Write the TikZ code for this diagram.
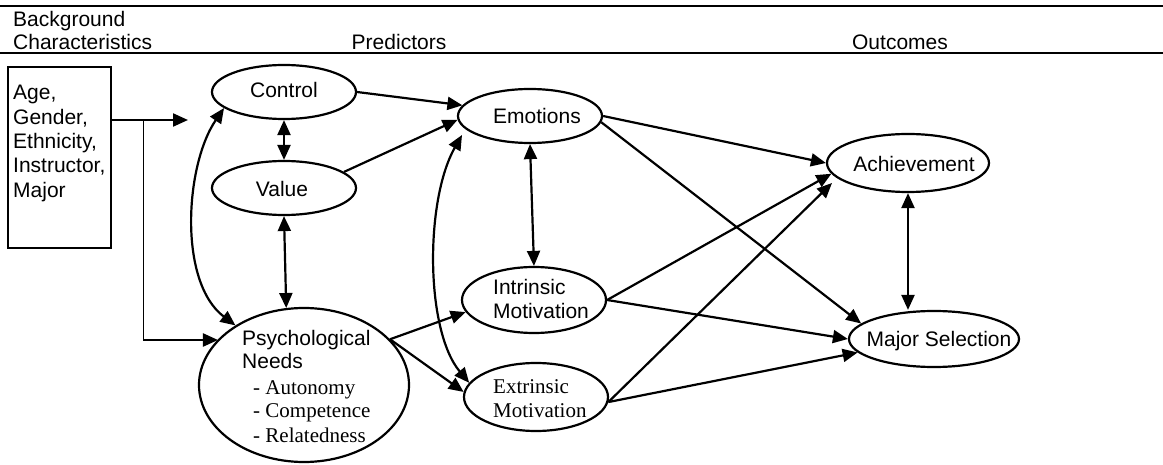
\documentclass[tikz,border=0pt]{standalone}
\usepackage{fontspec}
\setmainfont{Liberation Sans}
\newfontfamily\tnr{Liberation Serif}
\usetikzlibrary{shapes.geometric,arrows.meta,calc}
\newcommand{\mlines}[1]{\begin{tabular}[t]{@{}l@{}}#1\end{tabular}}
\begin{document}
\begin{tikzpicture}[x=1pt,y=-1pt,
  font=\fontsize{21}{24}\selectfont,
  oval/.style={ellipse, draw, line width=2.2pt, inner sep=0pt},
  txt/.style={inner sep=0pt},
  tipshape/.tip={Triangle[length=15pt,width=13pt]},
  arr/.style={line width=2.2pt, -tipshape},
  darr/.style={line width=2.2pt, tipshape-tipshape},
  hair/.style={line width=1pt},
  rule/.style={line width=2.2pt}]
\useasboundingbox (0,0) rectangle (1163,465);

% header
\draw[rule] (0,6) -- (1163,6);
\draw[rule] (0,53) -- (1163,53);
\node[txt, anchor=base west, font=\fontsize{21}{23}\selectfont] (hbg) at (13,27) {\mlines{Background\\Characteristics}};
\node[txt, anchor=base] (hpred) at (399,50) {Predictors};
\node[txt, anchor=base] (hout) at (900,50) {Outcomes};

% background box
\node[draw, line width=2.2pt, minimum width=103pt, minimum height=181pt, inner sep=0pt] (bg) at (59.5,157.5) {};
\node[txt, anchor=base west, font=\fontsize{21}{24.3}\selectfont] (bgtext) at (13,100) {\mlines{Age,\\Gender,\\Ethnicity,\\Instructor,\\Major}};

% ellipses
\node[oval, minimum width=144pt, minimum height=54pt] (control) at (284,92) {};
\node[txt, anchor=base] at (284,98) {Control};
\node[oval, minimum width=144pt, minimum height=54pt] (value) at (284,188) {};
\node[txt, anchor=base] at (282,197) {Value};
\node[oval, minimum width=144pt, minimum height=54pt] (emotions) at (530,116) {};
\node[txt, anchor=base] at (537,124) {Emotions};
\node[oval, minimum width=144pt, minimum height=66pt] (intrinsic) at (534,300) {};
\node[txt, anchor=base west] at (493,295) {\mlines{Intrinsic\\Motivation}};
\node[oval, minimum width=144pt, minimum height=68pt] (extrinsic) at (536,397) {};
\node[txt, anchor=base west, font=\tnr\fontsize{21}{24}\selectfont] at (493,393) {\mlines{Extrinsic\\Motivation}};
\node[oval, minimum width=210pt, minimum height=154pt] (psych) at (304,385) {};
\node[txt, anchor=base west] at (242,345) {\mlines{Psychological\\[-1pt]Needs\\[2pt]
  \hspace*{11pt}{\tnr - Autonomy}\\
  \hspace*{11pt}{\tnr - Competence}\\
  \hspace*{11pt}{\tnr - Relatedness}}};
\node[oval, minimum width=162pt, minimum height=58pt] (achievement) at (908,163) {};
\node[txt, anchor=base] at (914,172) {Achievement};
\node[oval, minimum width=170pt, minimum height=56pt] (major) at (934,339) {};
\node[txt, anchor=base] at (939,346) {Major Selection};

% connectors from background box
\coordinate (j1) at (143,120);
\coordinate (j2) at (143,340);
\coordinate (bgtip) at (188,120);
\draw[arr] (bg.east |- j1) -- (bgtip);
\draw[hair] (j1) -- (j2);
\draw[arr] (j2) -- (j2 -| psych.152);

% predictors
\draw[darr] (control.south) -- (value.north);
\draw[darr] (value.south) -- (psych.103);
\draw[darr] (control.195) .. controls (185,165) and (178,282) .. (psych.139);
\draw[arr] (control.east) -- (emotions.171);
\draw[arr] (value.15) -- (emotions.183);
\draw[darr] ([shift={(-68,19)}]emotions.center) .. controls (425,200) and (425,330) .. (extrinsic.168);
\draw[darr] (emotions.south) -- (intrinsic.north);
\draw[arr] (psych.28) -- (intrinsic.190);
\draw[arr] (psych.28) -- (extrinsic.176);

% outcomes
\draw[arr] (emotions.east) -- (achievement.west);
\draw[arr] (emotions.-5) -- (major.168);
\draw[arr] (intrinsic.east) -- (achievement.188);
\draw[arr] (intrinsic.east) -- (major.west);
\draw[arr] (extrinsic.-4) -- ([shift={(-76,20)}]achievement.center);
\draw[arr] (extrinsic.-4) -- (major.190);
\draw[darr] (achievement.south) -- (achievement.south |- major.north);
\end{tikzpicture}
\end{document}
